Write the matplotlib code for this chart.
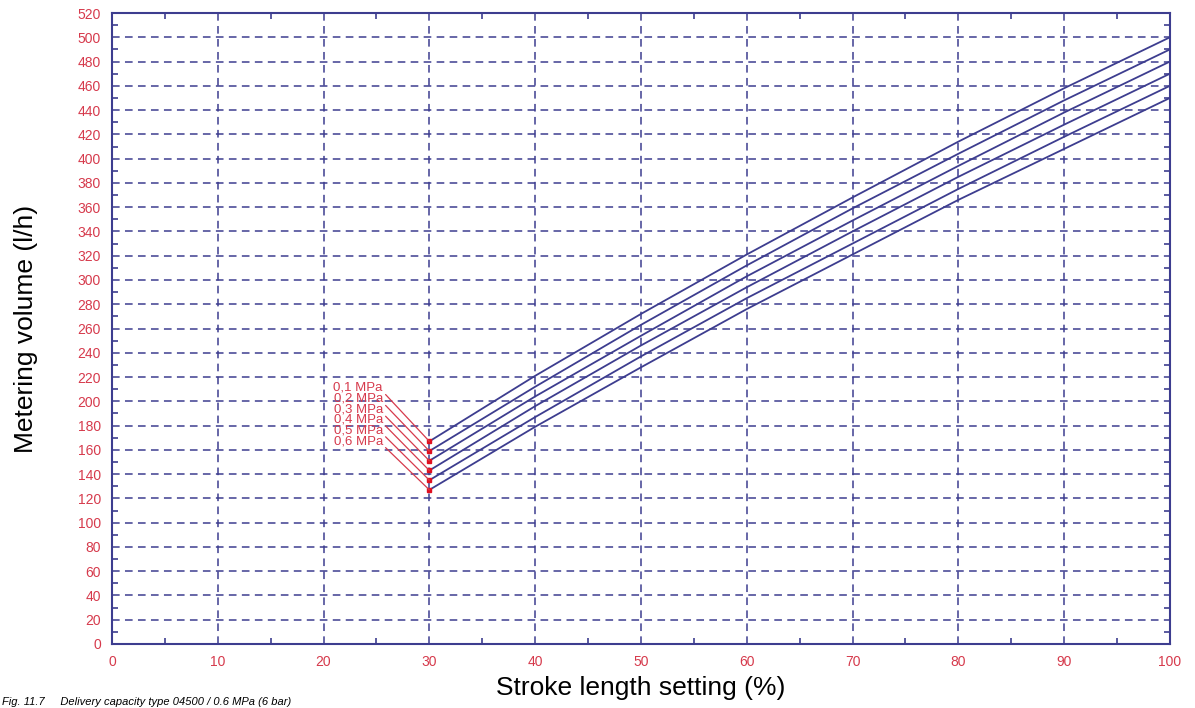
import numpy as np
import matplotlib.pyplot as plt
from matplotlib.ticker import MultipleLocator

plt.rcParams['font.family'] = ['Liberation Sans', 'DejaVu Sans']

# stroke length (%) and metering volume (l/h) per back pressure
stroke = [30, 40, 50, 60, 70, 80, 90, 100]
labels = ["0,1 MPa", "0,2 MPa", "0,3 MPa", "0,4 MPa", "0,5 MPa", "0,6 MPa"]
vol_01 = [167, 221, 272, 321, 368, 414, 458, 500]
vol_02 = [159, 212, 263, 312, 359, 404, 448, 490]
vol_03 = [151, 204, 254, 303, 349, 394, 438, 480]
vol_04 = [143, 196, 246, 294, 340, 385, 428, 470]
vol_05 = [135, 187, 237, 285, 330, 375, 418, 460]
vol_06 = [127, 179, 228, 276, 321, 366, 408, 450]
series = [vol_01, vol_02, vol_03, vol_04, vol_05, vol_06]
# label text positions (x, y) in data units
label_x = 25.6
label_y = [211, 202, 193, 185, 176, 167]

navy = "#3d3d8f"
red = "#d63a4c"

fig = plt.figure(figsize=(11.95, 7.08), dpi=100)
ax = fig.add_axes([0.0937, 0.0904, 0.8853, 0.8912])

for vals, lab, ly in zip(series, labels, label_y):
    ax.plot(stroke, vals, color=navy, lw=1.3, zorder=3)
    ax.plot(stroke[0], vals[0], marker="s", ms=3, color="#e01020", zorder=4)
    ax.annotate(lab, xy=(stroke[0], vals[0]), xytext=(label_x, ly),
                ha="right", va="center", fontsize=9.5, color=red,
                arrowprops=dict(arrowstyle="-", color=red, lw=0.9,
                                shrinkA=0, shrinkB=0,
                                relpos=(1.0, 0.2)),
                zorder=4)

ax.set_xlim(0, 100)
ax.set_ylim(0, 520)
ax.xaxis.set_major_locator(MultipleLocator(10))
ax.xaxis.set_minor_locator(MultipleLocator(5))
ax.yaxis.set_major_locator(MultipleLocator(20))
ax.yaxis.set_minor_locator(MultipleLocator(10))

ax.grid(True, which="major", color=navy, ls=(0, (5, 3.5)), lw=1.1)
ax.tick_params(which="both", direction="in", top=True, right=True,
               color=navy, labelcolor=red, labelsize=10)
ax.tick_params(which="major", length=0, pad=8)
ax.tick_params(which="minor", length=4, width=1.2)
for s in ax.spines.values():
    s.set_color(navy)
    s.set_linewidth(1.5)

ax.set_xlabel("Stroke length setting (%)", fontsize=19, labelpad=5)
ax.set_ylabel("Metering volume (l/h)", fontsize=19, labelpad=28)

fig.text(0.002, 0.008, "Fig. 11.7     Delivery capacity type 04500 / 0.6 MPa (6 bar)",
         fontsize=8, style="italic", va="center", ha="left")

fig.savefig("out.png", dpi=100)
